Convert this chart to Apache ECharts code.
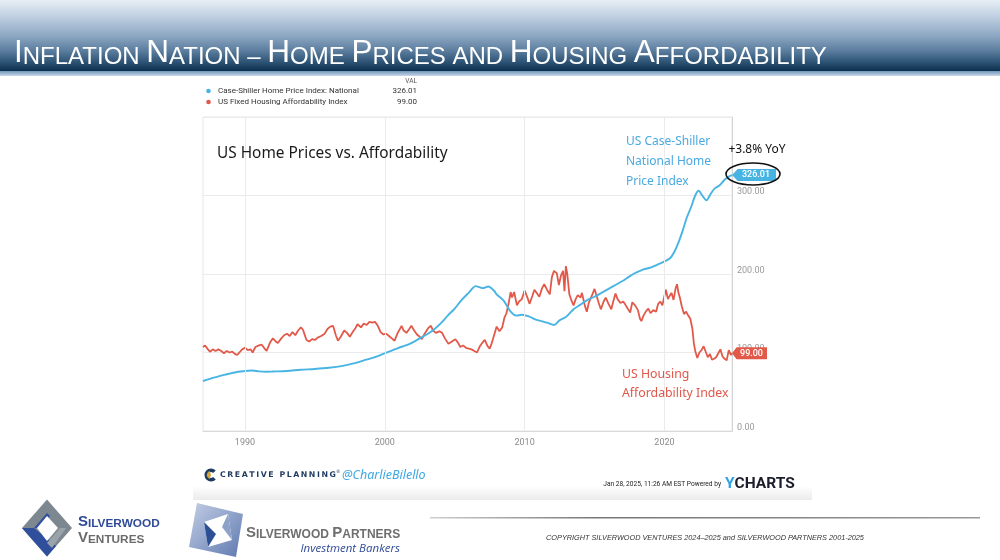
<!DOCTYPE html>
<html><head><meta charset="utf-8">
<script src="https://cdn.jsdelivr.net/npm/echarts@6/dist/echarts.min.js"></script>
<style>html,body{margin:0;padding:0;background:#fff}#c{width:1000px;height:560px}</style>
</head><body><div id="c"></div>
<script>
// Case-Shiller Home Price Index: National  [year, value]
const homePriceIndex = [
[1987.0,63.7],[1987.5,66.5],[1988.0,69],[1988.5,71.5],[1989.0,73.5],[1989.5,75.5],[1990.0,76.5],[1990.5,77],
[1991.0,76],[1991.5,75.5],[1992.0,75.8],[1993.0,76.5],[1994.0,78],[1995.0,79],[1996.0,80.5],[1997.0,83],
[1998.0,87],[1998.5,90],[1999.0,92.5],[1999.5,95.5],[2000.0,99],[2000.5,102.5],[2001.0,106],[2001.5,109],
[2002.0,113],[2002.5,118],[2003.0,123],[2003.5,129],[2004.0,137],[2004.5,147],[2005.0,156],[2005.5,167],
[2006.0,176],[2006.5,184.6],[2006.8,183],[2007.0,182],[2007.4,184],[2007.8,179],[2008.0,174],[2008.5,166],
[2009.0,152],[2009.4,147],[2009.8,148],[2010.3,146],[2010.8,142],[2011.2,140],[2011.6,138],[2012.1,135],
[2012.5,141],[2013.0,146],[2013.5,155],[2014.0,161],[2014.5,167],[2015.0,171],[2015.5,176],[2016.0,181],
[2016.5,186],[2017.0,191],[2017.5,197],[2018.0,202],[2018.5,206],[2019.0,208],[2019.5,212],[2020.0,216],
[2020.4,220],[2020.7,228],[2021.0,240],[2021.3,255],[2021.6,272],[2021.9,285],[2022.2,300],[2022.45,306],
[2022.7,300],[2023.0,294],[2023.3,302],[2023.6,309],[2023.95,313],[2024.3,320],[2024.6,324],[2024.83,326.01]
];
// US Fixed Housing Affordability Index  [year, value]
const affordabilityIndex = [
[1987.0,107],[1987.15,109],[1987.35,104],[1987.5,101],[1987.7,104],[1987.9,102],[1988.1,104],[1988.3,102],
[1988.5,99],[1988.7,102],[1988.9,100],[1989.1,101],[1989.3,98],[1989.45,97],[1989.6,100],[1989.8,104],
[1990.0,106],[1990.2,103],[1990.4,104],[1990.55,100],[1990.75,107],[1991.0,109],[1991.2,110],[1991.4,105],
[1991.55,102],[1991.8,113],[1992.0,118],[1992.2,114],[1992.35,112],[1992.6,118],[1992.8,122],[1993.0,124],
[1993.2,121],[1993.4,126],[1993.6,122],[1993.8,128],[1994.0,132],[1994.15,129],[1994.4,116],[1994.6,114],
[1994.8,117],[1995.0,116],[1995.2,119],[1995.45,121],[1995.7,124],[1995.9,130],[1996.1,133],[1996.3,134],
[1996.5,122],[1996.65,115],[1996.85,120],[1997.1,128],[1997.3,125],[1997.5,120],[1997.7,126],[1997.9,131],
[1998.05,136],[1998.3,132],[1998.5,137],[1998.7,135],[1998.9,139],[1999.1,138],[1999.3,139],[1999.5,134],
[1999.7,126],[1999.9,123],[2000.1,124],[2000.3,121],[2000.5,118],[2000.7,115],[2000.9,124],[2001.2,134],
[2001.35,128],[2001.55,125],[2001.75,130],[2001.9,134],[2002.1,128],[2002.3,123],[2002.5,120],[2002.65,117],
[2002.85,124],[2003.1,131],[2003.3,134],[2003.45,128],[2003.65,125],[2003.9,127],[2004.1,125],[2004.3,118],
[2004.55,111],[2004.8,114],[2005.05,117],[2005.25,112],[2005.4,107],[2005.6,109],[2005.8,106],[2006.0,105],
[2006.2,104],[2006.4,102],[2006.6,100],[2006.8,108],[2007.0,113],[2007.15,116],[2007.35,108],[2007.5,105],
[2007.65,112],[2007.85,124],[2008.0,133],[2008.2,127],[2008.4,132],[2008.55,144],[2008.7,150],[2008.85,162],
[2009.0,177],[2009.1,170],[2009.25,177],[2009.45,160],[2009.6,165],[2009.8,168],[2010.0,179],[2010.2,170],
[2010.35,162],[2010.55,172],[2010.7,180],[2010.9,175],[2011.05,171],[2011.25,182],[2011.4,187],[2011.6,180],
[2011.8,174],[2011.95,196],[2012.1,204],[2012.3,201],[2012.45,186],[2012.6,198],[2012.75,204],[2012.85,178],
[2012.95,210],[2013.05,200],[2013.2,174],[2013.35,166],[2013.5,160],[2013.65,168],[2013.8,173],[2014.0,170],
[2014.1,176],[2014.3,160],[2014.45,152],[2014.6,164],[2014.8,172],[2015.0,181],[2015.15,172],[2015.3,163],
[2015.45,155],[2015.65,165],[2015.8,170],[2016.0,162],[2016.2,155],[2016.35,166],[2016.5,175],[2016.65,168],
[2016.85,163],[2017.05,165],[2017.2,161],[2017.4,155],[2017.55,151],[2017.7,164],[2017.9,160],[2018.1,154],
[2018.25,143],[2018.35,140],[2018.5,147],[2018.7,153],[2018.85,156],[2019.0,150],[2019.2,154],[2019.4,152],
[2019.55,162],[2019.7,165],[2019.85,160],[2020.0,172],[2020.1,180],[2020.25,168],[2020.4,173],[2020.5,176],
[2020.65,167],[2020.8,182],[2020.9,187],[2021.0,176],[2021.1,170],[2021.25,158],[2021.4,149],[2021.55,152],
[2021.7,147],[2021.85,143],[2022.0,130],[2022.1,112],[2022.2,102],[2022.35,93],[2022.5,100],[2022.65,103],
[2022.8,108],[2022.95,101],[2023.1,94],[2023.25,98],[2023.4,91],[2023.55,92],[2023.7,94],[2023.85,99],
[2024.0,104],[2024.15,95],[2024.3,92],[2024.45,90],[2024.6,103],[2024.75,97],[2024.83,99]
];
const decadeTicks = [1990, 2000, 2010, 2020];
const seriesNames = ['Case-Shiller Home Price Index: National', 'US Fixed Housing Affordability Index'];
const lastValues = ['326.01', '99.00'];

const BLUE = '#48b4e4', RED = '#e2594a';
const chart = echarts.init(document.getElementById('c'), null, {renderer: 'canvas'});
const tagPath = 'path://M0,6 L6,0 L46,0 L46,12 L6,12 Z';

const title = '{b|I}{s|NFLATION }{b|N}{s|ATION – }{b|H}{s|OME }{b|P}{s|RICES AND }{b|H}{s|OUSING }{b|A}{s|FFORDABILITY}';
const sp = '\u2009';
const cpText = 'CREATIVE PLANNING'.split('').join(sp);
const TF = 'Liberation Sans, Arial';

const option = {
  backgroundColor: '#fff',
  animation: false,
  grid: {left: 203, right: 268, top: 117, bottom: 129, show: true, borderColor: '#e6e6e6', borderWidth: 1},
  xAxis: {
    type: 'value', min: 1987, max: 2024.83, interval: 1,
    axisLine: {show: true, lineStyle: {color: '#d9d9d9'}},
    axisTick: {show: false}, splitLine: {show: false},
    axisLabel: {
      color: '#8a8a8a', fontSize: 9, fontFamily: 'Roboto', margin: 7, showMaxLabel: false, showMinLabel: false,
      formatter: v => { const r = Math.round(v); return (Math.abs(v - r) < 1e-6 && r % 10 === 0) ? String(r) : ''; }
    }
  },
  yAxis: {
    type: 'value', position: 'right', min: 0, max: 400, interval: 100,
    axisLine: {show: true, lineStyle: {color: '#d4d4d4'}},
    axisTick: {show: false},
    splitLine: {lineStyle: {color: '#ebebeb'}},
    axisLabel: {color: '#9a9a9a', fontSize: 9, fontFamily: 'Roboto', margin: 5, verticalAlign: 'bottom', padding: [0, 0, -1, 0],
      formatter: v => v === 400 ? '' : v.toFixed(2)}
  },
  series: [
    {type: 'line', data: [], z: 1, silent: true,
     markLine: {silent: true, symbol: 'none', label: {show: false},
       lineStyle: {color: '#ebebeb', width: 1, type: 'solid'},
       data: decadeTicks.map(t => ({xAxis: t}))}},
    {name: seriesNames[1], type: 'line', data: affordabilityIndex, showSymbol: false, z: 3,
     lineStyle: {color: RED, width: 1.8}, itemStyle: {color: RED},
     markPoint: {symbol: tagPath, symbolSize: [35, 12], symbolKeepAspect: false, symbolOffset: [17.5, 0],
       itemStyle: {color: RED},
       label: {show: true, formatter: lastValues[1], color: '#fff', fontSize: 9, fontWeight: 500, fontFamily: 'Roboto', offset: [2, 0]},
       data: [{coord: affordabilityIndex[affordabilityIndex.length - 1]}]}},
    {name: seriesNames[0], type: 'line', data: homePriceIndex, showSymbol: false, smooth: 0.3, z: 4,
     lineStyle: {color: BLUE, width: 1.9}, itemStyle: {color: BLUE},
     markPoint: {symbol: tagPath, symbolSize: [44, 12], symbolKeepAspect: false, symbolOffset: [22, 0],
       itemStyle: {color: BLUE},
       label: {show: true, formatter: lastValues[0], color: '#fff', fontSize: 9, fontWeight: 500, fontFamily: 'Roboto', offset: [2, 0]},
       data: [{coord: homePriceIndex[homePriceIndex.length - 1]}]}}
  ],
  graphic: [
    // header band
    {type: 'rect', shape: {x: 0, y: 0, width: 1000, height: 71}, z: 0,
     style: {fill: new echarts.graphic.LinearGradient(0, 0, 0, 1, [
       {offset: 0, color: '#e8eef5'}, {offset: 0.25, color: '#bccde0'}, {offset: 0.5, color: '#8ea8c3'},
       {offset: 0.72, color: '#5a7c9d'}, {offset: 0.88, color: '#2c5273'}, {offset: 1, color: '#0c2f4d'}])}},
    {type: 'rect', shape: {x: 0, y: 71, width: 1000, height: 5}, z: 0,
     style: {fill: new echarts.graphic.LinearGradient(0, 0, 0, 1, [
       {offset: 0, color: '#6f95bb'}, {offset: 1, color: '#c9d8e8'}])}},
    {type: 'text', z: 10, style: {x: 14, y: 69, text: title, align: 'left', verticalAlign: 'bottom',
      rich: {b: {fontSize: 31.5, fontFamily: TF, fill: '#fff', lineHeight: 31, verticalAlign: 'bottom'},
             s: {fontSize: 24, fontFamily: TF, fill: '#fff', lineHeight: 27, verticalAlign: 'bottom'}}}},
    // legend
    {type: 'text', z: 10, style: {x: 417, y: 81, text: 'VAL', align: 'right', verticalAlign: 'middle', fontSize: 6.5, fontFamily: 'Roboto', fill: '#555'}},
    {type: 'circle', z: 10, shape: {cx: 208.5, cy: 91, r: 2.3}, style: {fill: BLUE}},
    {type: 'text', z: 10, style: {x: 218, y: 91, text: seriesNames[0], verticalAlign: 'middle', fontSize: 8, fontFamily: 'Roboto', fill: '#333'}},
    {type: 'text', z: 10, style: {x: 417, y: 91, text: lastValues[0], align: 'right', verticalAlign: 'middle', fontSize: 8, fontFamily: 'Roboto', fill: '#333'}},
    {type: 'circle', z: 10, shape: {cx: 208.5, cy: 102, r: 2.3}, style: {fill: RED}},
    {type: 'text', z: 10, style: {x: 218, y: 102, text: seriesNames[1], verticalAlign: 'middle', fontSize: 8, fontFamily: 'Roboto', fill: '#333'}},
    {type: 'text', z: 10, style: {x: 417, y: 102, text: lastValues[1], align: 'right', verticalAlign: 'middle', fontSize: 8, fontFamily: 'Roboto', fill: '#333'}},
    // annotations
    {type: 'text', z: 10, style: {x: 217, y: 154, text: 'US Home Prices vs. Affordability', verticalAlign: 'middle', fontSize: 15.4, fontFamily: 'Noto Sans', fill: '#1a1a1a'}},
    {type: 'text', z: 10, style: {x: 626, y: 162, text: 'US Case-Shiller\nNational Home\nPrice Index', verticalAlign: 'middle', lineHeight: 20, fontSize: 12, fontFamily: 'Noto Sans', fill: '#4aa9e0'}},
    {type: 'text', z: 10, style: {x: 622, y: 384, text: 'US Housing\nAffordability Index', verticalAlign: 'middle', lineHeight: 19, fontSize: 12.3, fontFamily: 'Noto Sans', fill: '#e0574a'}},
    {type: 'text', z: 10, style: {x: 757, y: 150, text: '+3.8% YoY', align: 'center', verticalAlign: 'middle', fontSize: 12, fontFamily: 'Noto Sans', fill: '#111'}},
    {type: 'ellipse', z: 10, shape: {cx: 753, cy: 174, rx: 27, ry: 11}, style: {fill: 'none', stroke: '#111', lineWidth: 1.6}},
    // chart footer
    {type: 'rect', z: 0, shape: {x: 193, y: 486, width: 619, height: 14},
     style: {fill: new echarts.graphic.LinearGradient(0, 0, 0, 1, [{offset: 0, color: '#ffffff'}, {offset: 1, color: '#ebebeb'}])}},
    {type: 'sector', z: 10, shape: {cx: 211, cy: 475, r: 6.5, r0: 2.8, startAngle: 0.75, endAngle: 5.53}, style: {fill: '#1f3a5f'}},
    {type: 'sector', z: 11, shape: {cx: 211, cy: 475, r: 4.2, r0: 0, startAngle: 1.9, endAngle: 4.4}, style: {fill: '#d6a43a'}},
    {type: 'text', z: 10, style: {x: 220, y: 475, text: cpText, verticalAlign: 'middle', fontSize: 7.8, fontWeight: 'bold', fontFamily: 'DejaVu Sans', fill: '#1f3a5f'}},
    {type: 'text', z: 10, style: {x: 336, y: 472, text: '®', verticalAlign: 'middle', fontSize: 4.5, fontFamily: 'DejaVu Sans', fill: '#1f3a5f'}},
    {type: 'text', z: 10, style: {x: 342, y: 475, text: '@CharlieBilello', verticalAlign: 'middle', fontSize: 12.5, fontStyle: 'italic', fontFamily: 'Noto Sans', fill: '#3ea8e3'}},
    {type: 'text', z: 10, style: {x: 721, y: 484, text: 'Jan 28, 2025, 11:26 AM EST Powered by', align: 'right', verticalAlign: 'middle', fontSize: 6.6, fontFamily: 'Roboto', fill: '#222'}},
    {type: 'text', z: 10, style: {x: 725, y: 484, text: '{y|Y}{c|CHARTS}', verticalAlign: 'middle',
      rich: {y: {fontSize: 15.5, fontWeight: 'bold', fontFamily: 'Roboto', fill: '#2ea3e8'}, c: {fontSize: 15.5, fontWeight: 'bold', fontFamily: 'Roboto', fill: '#1b1d2b'}}}},
    // Silverwood Ventures logo
    {type: 'polygon', z: 5, shape: {points: [[47,499.5],[72,528],[47,556.5],[22,528]]}, style: {fill: '#7d878f'}},
    {type: 'polygon', z: 6, shape: {points: [[22,528],[47,556.5],[56,546],[34,528]]}, style: {fill: '#2f4f9c'}},
    {type: 'polygon', z: 6, shape: {points: [[34,528],[47,513],[50,516],[39,528]]}, style: {fill: '#2f4f9c'}},
    {type: 'polygon', z: 6, shape: {points: [[60,528],[47,543],[52,548],[66,528]]}, style: {fill: '#9aa3aa'}},
    {type: 'polygon', z: 7, shape: {points: [[47,516],[58,528],[47,541],[37,528]]}, style: {fill: '#fff'}},
    {type: 'text', z: 10, style: {x: 78, y: 522, text: '{b|S}{s|ILVERWOOD}', verticalAlign: 'middle',
      rich: {b: {fontSize: 15, fontWeight: 'bold', fontFamily: TF, fill: '#2f4a98', lineHeight: 15, verticalAlign: 'bottom'},
             s: {fontSize: 11.8, fontWeight: 'bold', fontFamily: TF, fill: '#2f4a98', lineHeight: 13, verticalAlign: 'bottom'}}}},
    {type: 'text', z: 10, style: {x: 78, y: 538, text: '{b|V}{s|ENTURES}', verticalAlign: 'middle',
      rich: {b: {fontSize: 15, fontWeight: 'bold', fontFamily: TF, fill: '#6b6b6b', lineHeight: 15, verticalAlign: 'bottom'},
             s: {fontSize: 11.8, fontWeight: 'bold', fontFamily: TF, fill: '#6b6b6b', lineHeight: 13, verticalAlign: 'bottom'}}}},
    // Silverwood Partners logo
    {type: 'polygon', z: 5, shape: {points: [[197,503],[243,514],[236,557],[189,547]]},
     style: {fill: new echarts.graphic.LinearGradient(0, 0, 1, 1, [{offset: 0, color: '#c3cee4'}, {offset: 1, color: '#5e79b0'}])}},
    {type: 'polygon', z: 6, shape: {points: [[204,522],[228,514],[232,540],[208,547]]}, style: {fill: '#ffffff'}},
    {type: 'polygon', z: 7, shape: {points: [[204,522],[208,547],[216,534]]}, style: {fill: '#2c4f96'}},
    {type: 'polygon', z: 7, shape: {points: [[228,514],[232,540],[222,527]]}, style: {fill: '#8ea1c9'}},
    {type: 'text', z: 10, style: {x: 246, y: 533, text: '{b|S}{s|ILVERWOOD }{b|P}{s|ARTNERS}', verticalAlign: 'middle',
      rich: {b: {fontSize: 15, fontWeight: 'bold', fontFamily: TF, fill: '#6e6e6e', lineHeight: 15, verticalAlign: 'bottom'},
             s: {fontSize: 12, fontWeight: 'bold', fontFamily: TF, fill: '#6e6e6e', lineHeight: 13, verticalAlign: 'bottom'}}}},
    {type: 'text', z: 10, style: {x: 400, y: 549, text: 'Investment Bankers', align: 'right', verticalAlign: 'middle', fontSize: 11.5, fontStyle: 'italic', fontFamily: 'Open Sans', fill: '#2f4a98'}},
    // footer rule & copyright
    {type: 'rect', z: 5, shape: {x: 430, y: 517, width: 550, height: 1.5},
     style: {fill: new echarts.graphic.LinearGradient(0, 0, 1, 0, [{offset: 0, color: '#cfcfcf'}, {offset: 0.3, color: '#777'}, {offset: 0.7, color: '#888'}, {offset: 1, color: '#999'}])}},
    {type: 'text', z: 10, style: {x: 705, y: 538, text: 'COPYRIGHT SILVERWOOD VENTURES 2024–2025 and SILVERWOOD PARTNERS 2001-2025', align: 'center', verticalAlign: 'middle', fontSize: 7.3, fontStyle: 'italic', fontFamily: TF, fill: '#333'}}
  ]
};
chart.setOption(option);
</script></body></html>
